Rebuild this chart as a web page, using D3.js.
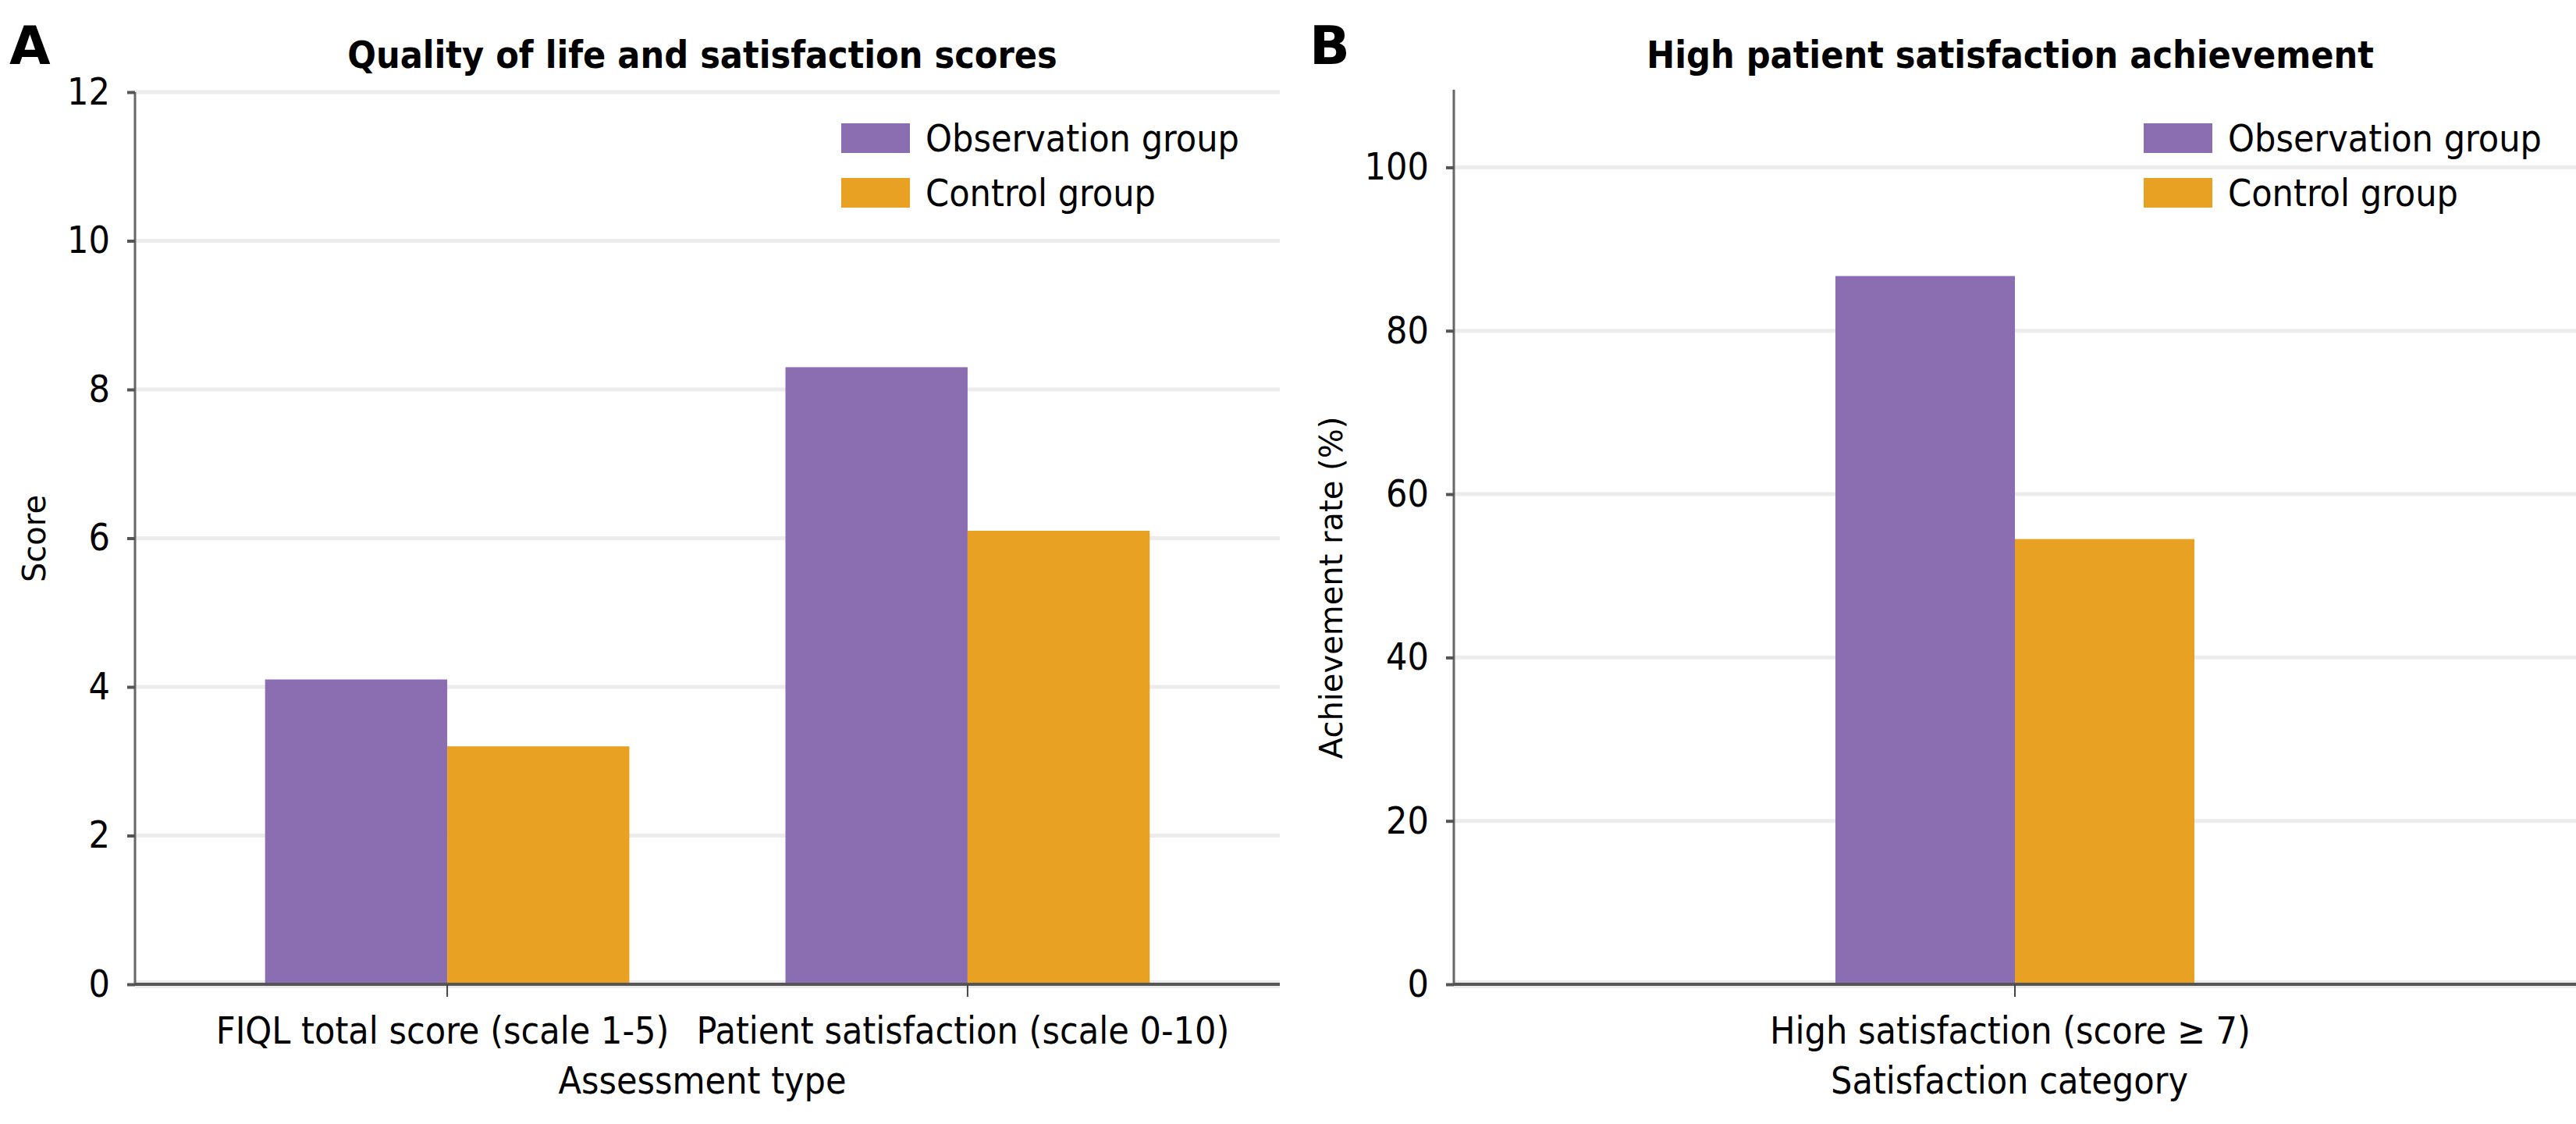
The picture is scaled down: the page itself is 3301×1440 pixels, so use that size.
<!DOCTYPE html>
<html>
<head>
<meta charset="utf-8">
<script src="https://cdn.jsdelivr.net/npm/d3@7"></script>
<style>
  html, body { margin: 0; padding: 0; background: #fff; }
  svg { display: block; }
  .cond { font-family: "DejaVu Sans Condensed", "DejaVu Sans", sans-serif; font-stretch: condensed; }
  .wide { font-family: "DejaVu Sans", sans-serif; }
</style>
</head>
<body>
<div id="chart"></div>
<script>
// data
const groups = ["Observation group", "Control group"];
const colors = ["#8b6db1", "#e8a122"];

const scoreCategories = ["FIQL total score (scale 1-5)", "Patient satisfaction (scale 0-10)"];
const scoreObservation = [4.1, 8.3];
const scoreControl = [3.2, 6.1];
const scoreTicks = [0, 2, 4, 6, 8, 10, 12];
const scoreMax = 12;

const rateCategories = ["High satisfaction (score \u2265 7)"];
const rateObservation = [86.7];
const rateControl = [54.5];
const rateTicks = [0, 20, 40, 60, 80, 100];
const rateMax = 109.5;

const width = 3301, height = 1440;

const svg = d3.select("#chart").append("svg")
  .attr("width", width)
  .attr("height", height)
  .attr("viewBox", [0, 0, width, height]);

function panel(opt) {
  const x0 = d3.scaleBand()
    .domain(opt.categories)
    .range([opt.left, opt.right])
    .paddingInner(0.3)
    .paddingOuter(opt.outer);
  const x1 = d3.scaleBand()
    .domain(groups)
    .range([0, x0.bandwidth()]);
  const y = d3.scaleLinear()
    .domain([0, opt.max])
    .range([opt.bottom, opt.top]);

  const g = svg.append("g");

  // gridlines
  g.append("g")
    .selectAll("line")
    .data(opt.ticks)
    .join("line")
    .attr("x1", opt.left)
    .attr("x2", opt.right)
    .attr("y1", d => y(d))
    .attr("y2", d => y(d))
    .attr("stroke", "#ececec")
    .attr("stroke-width", d => d === 0 ? 10 : 5);

  // bars
  const rows = opt.categories.map((c, i) => ({ cat: c, vals: [opt.obs[i], opt.ctrl[i]] }));
  g.append("g")
    .selectAll("g")
    .data(rows)
    .join("g")
    .attr("transform", d => "translate(" + x0(d.cat) + ",0)")
    .selectAll("rect")
    .data(d => d.vals.map((v, j) => ({ key: groups[j], value: v, color: colors[j] })))
    .join("rect")
    .attr("x", d => x1(d.key))
    .attr("width", x1.bandwidth())
    .attr("y", d => y(d.value))
    .attr("height", d => y(0) - y(d.value))
    .attr("fill", d => d.color);

  // y axis
  const yAxis = d3.axisLeft(y)
    .tickValues(opt.ticks)
    .tickSize(10)
    .tickPadding(22);
  const ya = g.append("g")
    .attr("transform", "translate(" + opt.left + ",0)")
    .call(yAxis);
  ya.select(".domain")
    .attr("stroke", "#666")
    .attr("stroke-width", 3)
    .attr("d", "M0," + opt.top + "V" + opt.bottom);
  ya.selectAll(".tick line").attr("stroke", "#555").attr("stroke-width", 4);
  ya.selectAll(".tick text")
    .attr("class", "cond")
    .attr("font-size", 48)
    .attr("fill", "#000");

  // x axis
  const xAxis = d3.axisBottom(x0).tickSize(16).tickFormat("");
  const xa = g.append("g")
    .attr("transform", "translate(0," + opt.bottom + ")")
    .call(xAxis);
  xa.select(".domain")
    .attr("stroke", "#555")
    .attr("stroke-width", 4)
    .attr("d", "M" + opt.left + ",0H" + opt.right);
  xa.selectAll(".tick line").attr("stroke", "#444").attr("stroke-width", 2);

  // category labels
  g.append("g")
    .selectAll("text")
    .data(opt.categories)
    .join("text")
    .attr("class", "cond")
    .attr("x", d => x0(d) + x0.bandwidth() / 2 + opt.labelShift)
    .attr("y", 1337)
    .attr("text-anchor", "middle")
    .attr("font-size", 48)
    .text(d => d);

  // axis titles
  g.append("text")
    .attr("class", "cond")
    .attr("x", opt.xTitleX)
    .attr("y", 1401)
    .attr("text-anchor", "middle")
    .attr("font-size", 48)
    .text(opt.xTitle);

  g.append("text")
    .attr("class", "wide")
    .attr("transform", "translate(" + opt.yTitleX + "," + opt.yTitleY + ") rotate(-90)")
    .attr("text-anchor", "middle")
    .attr("font-size", 40)
    .text(opt.yTitle);

  // title and letter
  g.append("text")
    .attr("class", "cond")
    .attr("x", opt.titleX)
    .attr("y", 87)
    .attr("text-anchor", "middle")
    .attr("font-size", 48)
    .attr("font-weight", "bold")
    .text(opt.title);

  g.append("text")
    .attr("class", "wide")
    .attr("x", opt.letterX)
    .attr("y", 82)
    .attr("font-size", 68)
    .attr("font-weight", "bold")
    .text(opt.letter);

  // legend
  const lg = g.append("g")
    .attr("transform", "translate(" + opt.legendX + ",158)");
  const item = lg.selectAll("g")
    .data(groups)
    .join("g")
    .attr("transform", (d, i) => "translate(0," + i * 70 + ")");
  item.append("rect")
    .attr("width", 88)
    .attr("height", 38)
    .attr("fill", (d, i) => colors[i]);
  item.append("text")
    .attr("class", "cond")
    .attr("x", 108)
    .attr("y", 36)
    .attr("font-size", 48)
    .text(d => d);
}

panel({
  categories: scoreCategories, obs: scoreObservation, ctrl: scoreControl,
  ticks: scoreTicks, max: scoreMax,
  left: 173, right: 1640, top: 118, bottom: 1261, outer: 0.25, labelShift: -6,
  title: "Quality of life and satisfaction scores", titleX: 900,
  letter: "A", letterX: 12,
  xTitle: "Assessment type", xTitleX: 900,
  yTitle: "Score", yTitleX: 58, yTitleY: 690,
  legendX: 1078
});

panel({
  categories: rateCategories, obs: rateObservation, ctrl: rateControl,
  ticks: rateTicks, max: rateMax,
  left: 1863, right: 3301, top: 115, bottom: 1261, outer: 0.744, labelShift: -6,
  title: "High patient satisfaction achievement", titleX: 2576,
  letter: "B", letterX: 1678,
  xTitle: "Satisfaction category", xTitleX: 2575,
  yTitle: "Achievement rate (%)", yTitleX: 1720, yTitleY: 753,
  legendX: 2747
});
</script>
</body>
</html>
